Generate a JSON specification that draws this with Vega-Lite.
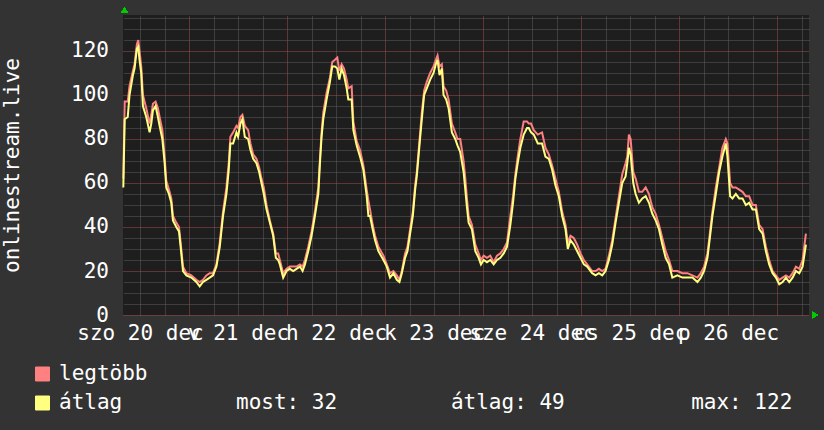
{
  "$schema": "https://vega.github.io/schema/vega-lite/v6.json",
  "width": 686,
  "height": 300,
  "autosize": {"type": "none"},
  "padding": {"left": 123, "top": 15, "right": 15, "bottom": 115},
  "background": "#333333",
  "config": {
    "font": "DejaVu Sans Mono",
    "view": {"fill": "#1e1e1e", "stroke": null},
    "axis": {"labelFont": "DejaVu Sans Mono", "titleFont": "DejaVu Sans Mono"},
    "legend": {"labelFont": "DejaVu Sans Mono"}
  },
  "data": {"values": [
    {"t": "2014-12-20T07:55Z", "legtöbb": 62, "átlag": 58},
    {"t": "2014-12-20T08:15Z", "legtöbb": 97, "átlag": 89},
    {"t": "2014-12-20T09:00Z", "legtöbb": 97, "átlag": 90},
    {"t": "2014-12-20T09:26Z", "legtöbb": 104, "átlag": 100},
    {"t": "2014-12-20T10:16Z", "legtöbb": 111, "átlag": 109},
    {"t": "2014-12-20T10:40Z", "legtöbb": 114, "átlag": 112},
    {"t": "2014-12-20T11:14Z", "legtöbb": 123, "átlag": 121},
    {"t": "2014-12-20T11:34Z", "legtöbb": 125, "átlag": 122},
    {"t": "2014-12-20T11:53Z", "legtöbb": 120, "átlag": 116},
    {"t": "2014-12-20T12:18Z", "legtöbb": 113, "átlag": 110},
    {"t": "2014-12-20T12:43Z", "legtöbb": 100, "átlag": 95},
    {"t": "2014-12-20T13:32Z", "legtöbb": 94, "átlag": 90},
    {"t": "2014-12-20T14:21Z", "legtöbb": 87, "átlag": 83},
    {"t": "2014-12-20T14:46Z", "legtöbb": 91, "átlag": 87},
    {"t": "2014-12-20T15:10Z", "legtöbb": 96, "átlag": 93},
    {"t": "2014-12-20T15:49Z", "legtöbb": 97, "átlag": 95},
    {"t": "2014-12-20T16:23Z", "legtöbb": 94, "átlag": 90},
    {"t": "2014-12-20T16:48Z", "legtöbb": 90, "átlag": 86},
    {"t": "2014-12-20T17:28Z", "legtöbb": 84, "átlag": 80},
    {"t": "2014-12-20T18:02Z", "legtöbb": 72, "átlag": 69},
    {"t": "2014-12-20T18:26Z", "legtöbb": 61, "átlag": 58},
    {"t": "2014-12-20T19:05Z", "legtöbb": 57, "átlag": 55},
    {"t": "2014-12-20T19:40Z", "legtöbb": 53, "átlag": 51},
    {"t": "2014-12-20T20:04Z", "legtöbb": 45, "átlag": 43},
    {"t": "2014-12-20T20:53Z", "legtöbb": 42, "átlag": 40},
    {"t": "2014-12-20T21:33Z", "legtöbb": 40, "átlag": 38},
    {"t": "2014-12-20T21:57Z", "legtöbb": 33, "átlag": 31},
    {"t": "2014-12-20T22:32Z", "legtöbb": 22, "átlag": 20},
    {"t": "2014-12-20T23:21Z", "legtöbb": 19, "átlag": 18},
    {"t": "2014-12-21T00:34Z", "legtöbb": 18, "átlag": 17},
    {"t": "2014-12-21T01:48Z", "legtöbb": 16, "átlag": 15},
    {"t": "2014-12-21T02:37Z", "legtöbb": 15, "átlag": 13},
    {"t": "2014-12-21T03:26Z", "legtöbb": 16, "átlag": 15},
    {"t": "2014-12-21T04:15Z", "legtöbb": 18, "átlag": 16},
    {"t": "2014-12-21T05:04Z", "legtöbb": 19, "átlag": 17},
    {"t": "2014-12-21T05:53Z", "legtöbb": 19, "átlag": 18},
    {"t": "2014-12-21T06:43Z", "legtöbb": 23, "átlag": 22},
    {"t": "2014-12-21T07:32Z", "legtöbb": 33, "átlag": 31},
    {"t": "2014-12-21T08:20Z", "legtöbb": 47, "átlag": 45},
    {"t": "2014-12-21T09:10Z", "legtöbb": 58, "átlag": 55},
    {"t": "2014-12-21T09:44Z", "legtöbb": 69, "átlag": 66},
    {"t": "2014-12-21T10:08Z", "legtöbb": 81, "átlag": 78},
    {"t": "2014-12-21T10:48Z", "legtöbb": 83, "átlag": 78},
    {"t": "2014-12-21T11:37Z", "legtöbb": 86, "átlag": 83},
    {"t": "2014-12-21T12:01Z", "legtöbb": 85, "átlag": 81},
    {"t": "2014-12-21T12:36Z", "legtöbb": 90, "átlag": 87},
    {"t": "2014-12-21T13:05Z", "legtöbb": 91, "átlag": 89},
    {"t": "2014-12-21T13:40Z", "legtöbb": 86, "átlag": 81},
    {"t": "2014-12-21T14:29Z", "legtöbb": 84, "átlag": 80},
    {"t": "2014-12-21T15:03Z", "legtöbb": 78, "átlag": 75},
    {"t": "2014-12-21T15:43Z", "legtöbb": 73, "átlag": 71},
    {"t": "2014-12-21T16:31Z", "legtöbb": 71, "átlag": 69},
    {"t": "2014-12-21T17:11Z", "legtöbb": 67, "átlag": 65},
    {"t": "2014-12-21T17:45Z", "legtöbb": 62, "átlag": 60},
    {"t": "2014-12-21T18:19Z", "legtöbb": 58, "átlag": 55},
    {"t": "2014-12-21T18:59Z", "legtöbb": 50, "átlag": 48},
    {"t": "2014-12-21T19:48Z", "legtöbb": 43, "átlag": 42},
    {"t": "2014-12-21T20:37Z", "legtöbb": 37, "átlag": 36},
    {"t": "2014-12-21T21:16Z", "legtöbb": 28, "átlag": 26},
    {"t": "2014-12-21T21:50Z", "legtöbb": 28, "átlag": 25},
    {"t": "2014-12-21T22:15Z", "legtöbb": 25, "átlag": 23},
    {"t": "2014-12-21T23:04Z", "legtöbb": 19, "átlag": 17},
    {"t": "2014-12-21T23:53Z", "legtöbb": 21, "átlag": 20},
    {"t": "2014-12-22T00:42Z", "legtöbb": 22, "átlag": 21},
    {"t": "2014-12-22T01:31Z", "legtöbb": 22, "átlag": 20},
    {"t": "2014-12-22T02:20Z", "legtöbb": 22, "átlag": 21},
    {"t": "2014-12-22T03:10Z", "legtöbb": 23, "átlag": 22},
    {"t": "2014-12-22T03:49Z", "legtöbb": 22, "átlag": 20},
    {"t": "2014-12-22T04:23Z", "legtöbb": 25, "átlag": 23},
    {"t": "2014-12-22T05:12Z", "legtöbb": 31, "átlag": 29},
    {"t": "2014-12-22T06:01Z", "legtöbb": 38, "átlag": 36},
    {"t": "2014-12-22T06:50Z", "legtöbb": 47, "átlag": 45},
    {"t": "2014-12-22T07:40Z", "legtöbb": 58, "átlag": 55},
    {"t": "2014-12-22T08:04Z", "legtöbb": 71, "átlag": 69},
    {"t": "2014-12-22T08:28Z", "legtöbb": 83, "átlag": 81},
    {"t": "2014-12-22T08:53Z", "legtöbb": 92, "átlag": 89},
    {"t": "2014-12-22T09:42Z", "legtöbb": 101, "átlag": 98},
    {"t": "2014-12-22T10:31Z", "legtöbb": 108, "átlag": 106},
    {"t": "2014-12-22T11:05Z", "legtöbb": 115, "átlag": 113},
    {"t": "2014-12-22T11:45Z", "legtöbb": 116, "átlag": 113},
    {"t": "2014-12-22T12:19Z", "legtöbb": 117, "átlag": 112},
    {"t": "2014-12-22T12:49Z", "legtöbb": 111, "átlag": 107},
    {"t": "2014-12-22T13:23Z", "legtöbb": 114, "átlag": 112},
    {"t": "2014-12-22T13:58Z", "legtöbb": 112, "átlag": 109},
    {"t": "2014-12-22T14:37Z", "legtöbb": 107, "átlag": 103},
    {"t": "2014-12-22T15:01Z", "legtöbb": 103, "átlag": 98},
    {"t": "2014-12-22T15:50Z", "legtöbb": 104, "átlag": 98},
    {"t": "2014-12-22T16:15Z", "legtöbb": 88, "átlag": 84},
    {"t": "2014-12-22T17:04Z", "legtöbb": 79, "átlag": 77},
    {"t": "2014-12-22T17:53Z", "legtöbb": 75, "átlag": 72},
    {"t": "2014-12-22T18:42Z", "legtöbb": 68, "átlag": 66},
    {"t": "2014-12-22T19:31Z", "legtöbb": 57, "átlag": 54},
    {"t": "2014-12-22T19:56Z", "legtöbb": 52, "átlag": 45},
    {"t": "2014-12-22T20:20Z", "legtöbb": 48, "átlag": 45},
    {"t": "2014-12-22T20:59Z", "legtöbb": 41, "átlag": 39},
    {"t": "2014-12-22T21:34Z", "legtöbb": 36, "átlag": 34},
    {"t": "2014-12-22T22:23Z", "legtöbb": 31, "átlag": 29},
    {"t": "2014-12-22T23:37Z", "legtöbb": 27, "átlag": 25},
    {"t": "2014-12-23T00:26Z", "legtöbb": 23, "átlag": 22},
    {"t": "2014-12-23T01:14Z", "legtöbb": 19, "átlag": 17},
    {"t": "2014-12-23T02:04Z", "legtöbb": 20, "átlag": 19},
    {"t": "2014-12-23T02:53Z", "legtöbb": 18, "átlag": 16},
    {"t": "2014-12-23T03:32Z", "legtöbb": 16, "átlag": 15},
    {"t": "2014-12-23T04:07Z", "legtöbb": 20, "átlag": 19},
    {"t": "2014-12-23T04:55Z", "legtöbb": 28, "átlag": 26},
    {"t": "2014-12-23T05:30Z", "legtöbb": 31, "átlag": 29},
    {"t": "2014-12-23T06:09Z", "legtöbb": 39, "átlag": 37},
    {"t": "2014-12-23T06:49Z", "legtöbb": 47, "átlag": 45},
    {"t": "2014-12-23T07:23Z", "legtöbb": 59, "átlag": 57},
    {"t": "2014-12-23T07:47Z", "legtöbb": 65, "átlag": 63},
    {"t": "2014-12-23T08:26Z", "legtöbb": 79, "átlag": 77},
    {"t": "2014-12-23T09:01Z", "legtöbb": 92, "átlag": 89},
    {"t": "2014-12-23T09:35Z", "legtöbb": 102, "átlag": 100},
    {"t": "2014-12-23T10:14Z", "legtöbb": 106, "átlag": 103},
    {"t": "2014-12-23T11:04Z", "legtöbb": 110, "átlag": 107},
    {"t": "2014-12-23T11:53Z", "legtöbb": 113, "átlag": 110},
    {"t": "2014-12-23T12:27Z", "legtöbb": 116, "átlag": 114},
    {"t": "2014-12-23T12:52Z", "legtöbb": 118, "átlag": 116},
    {"t": "2014-12-23T13:21Z", "legtöbb": 113, "átlag": 109},
    {"t": "2014-12-23T13:55Z", "legtöbb": 114, "átlag": 112},
    {"t": "2014-12-23T14:20Z", "legtöbb": 104, "átlag": 100},
    {"t": "2014-12-23T14:59Z", "legtöbb": 102, "átlag": 98},
    {"t": "2014-12-23T15:34Z", "legtöbb": 98, "átlag": 94},
    {"t": "2014-12-23T16:23Z", "legtöbb": 87, "átlag": 83},
    {"t": "2014-12-23T17:12Z", "legtöbb": 83, "átlag": 80},
    {"t": "2014-12-23T17:46Z", "legtöbb": 80, "átlag": 77},
    {"t": "2014-12-23T18:26Z", "legtöbb": 80, "átlag": 74},
    {"t": "2014-12-23T19:15Z", "legtöbb": 70, "átlag": 65},
    {"t": "2014-12-23T19:40Z", "legtöbb": 62, "átlag": 57},
    {"t": "2014-12-23T20:04Z", "legtöbb": 53, "átlag": 49},
    {"t": "2014-12-23T20:29Z", "legtöbb": 45, "átlag": 42},
    {"t": "2014-12-23T21:17Z", "legtöbb": 41, "átlag": 39},
    {"t": "2014-12-23T22:07Z", "legtöbb": 32, "átlag": 29},
    {"t": "2014-12-23T22:56Z", "legtöbb": 28, "átlag": 26},
    {"t": "2014-12-23T23:30Z", "legtöbb": 25, "átlag": 23},
    {"t": "2014-12-24T00:10Z", "legtöbb": 27, "átlag": 25},
    {"t": "2014-12-24T00:58Z", "legtöbb": 26, "átlag": 24},
    {"t": "2014-12-24T01:47Z", "legtöbb": 27, "átlag": 25},
    {"t": "2014-12-24T02:37Z", "legtöbb": 24, "átlag": 23},
    {"t": "2014-12-24T03:26Z", "legtöbb": 27, "átlag": 25},
    {"t": "2014-12-24T04:15Z", "legtöbb": 28, "átlag": 26},
    {"t": "2014-12-24T05:04Z", "legtöbb": 30, "átlag": 28},
    {"t": "2014-12-24T05:53Z", "legtöbb": 33, "átlag": 31},
    {"t": "2014-12-24T06:42Z", "legtöbb": 45, "átlag": 41},
    {"t": "2014-12-24T07:21Z", "legtöbb": 54, "átlag": 51},
    {"t": "2014-12-24T07:56Z", "legtöbb": 64, "átlag": 62},
    {"t": "2014-12-24T08:30Z", "legtöbb": 72, "átlag": 69},
    {"t": "2014-12-24T09:09Z", "legtöbb": 80, "átlag": 76},
    {"t": "2014-12-24T09:58Z", "legtöbb": 88, "átlag": 82},
    {"t": "2014-12-24T10:47Z", "legtöbb": 88, "átlag": 85},
    {"t": "2014-12-24T11:12Z", "legtöbb": 87, "átlag": 85},
    {"t": "2014-12-24T11:46Z", "legtöbb": 87, "átlag": 83},
    {"t": "2014-12-24T12:26Z", "legtöbb": 84, "átlag": 82},
    {"t": "2014-12-24T13:25Z", "legtöbb": 82, "átlag": 78},
    {"t": "2014-12-24T14:28Z", "legtöbb": 83, "átlag": 78},
    {"t": "2014-12-24T15:17Z", "legtöbb": 76, "átlag": 72},
    {"t": "2014-12-24T16:07Z", "legtöbb": 73, "átlag": 71},
    {"t": "2014-12-24T16:56Z", "legtöbb": 68, "átlag": 66},
    {"t": "2014-12-24T17:44Z", "legtöbb": 62, "átlag": 59},
    {"t": "2014-12-24T18:34Z", "legtöbb": 56, "átlag": 54},
    {"t": "2014-12-24T19:23Z", "legtöbb": 47, "átlag": 45},
    {"t": "2014-12-24T20:12Z", "legtöbb": 41, "átlag": 39},
    {"t": "2014-12-24T20:46Z", "legtöbb": 33, "átlag": 30},
    {"t": "2014-12-24T21:25Z", "legtöbb": 36, "átlag": 34},
    {"t": "2014-12-24T22:14Z", "legtöbb": 35, "átlag": 32},
    {"t": "2014-12-24T23:04Z", "legtöbb": 32, "átlag": 29},
    {"t": "2014-12-24T23:53Z", "legtöbb": 28, "átlag": 26},
    {"t": "2014-12-25T00:42Z", "legtöbb": 25, "átlag": 23},
    {"t": "2014-12-25T01:31Z", "legtöbb": 23, "átlag": 22},
    {"t": "2014-12-25T02:44Z", "legtöbb": 20, "átlag": 19},
    {"t": "2014-12-25T03:34Z", "legtöbb": 20, "átlag": 18},
    {"t": "2014-12-25T04:23Z", "legtöbb": 21, "átlag": 19},
    {"t": "2014-12-25T05:12Z", "legtöbb": 20, "átlag": 18},
    {"t": "2014-12-25T06:01Z", "legtöbb": 21, "átlag": 20},
    {"t": "2014-12-25T06:50Z", "legtöbb": 27, "átlag": 25},
    {"t": "2014-12-25T07:39Z", "legtöbb": 34, "átlag": 32},
    {"t": "2014-12-25T08:28Z", "legtöbb": 44, "átlag": 42},
    {"t": "2014-12-25T09:17Z", "legtöbb": 54, "átlag": 51},
    {"t": "2014-12-25T10:06Z", "legtöbb": 64, "átlag": 60},
    {"t": "2014-12-25T10:55Z", "legtöbb": 69, "átlag": 63},
    {"t": "2014-12-25T11:20Z", "legtöbb": 72, "átlag": 69},
    {"t": "2014-12-25T11:44Z", "legtöbb": 82, "átlag": 76},
    {"t": "2014-12-25T12:09Z", "legtöbb": 80, "átlag": 73},
    {"t": "2014-12-25T12:48Z", "legtöbb": 65, "átlag": 60},
    {"t": "2014-12-25T13:23Z", "legtöbb": 62, "átlag": 55},
    {"t": "2014-12-25T14:11Z", "legtöbb": 56, "átlag": 51},
    {"t": "2014-12-25T15:01Z", "legtöbb": 56, "átlag": 53},
    {"t": "2014-12-25T15:50Z", "legtöbb": 58, "átlag": 54},
    {"t": "2014-12-25T16:39Z", "legtöbb": 55, "átlag": 51},
    {"t": "2014-12-25T17:28Z", "legtöbb": 49, "átlag": 46},
    {"t": "2014-12-25T18:17Z", "legtöbb": 46, "átlag": 43},
    {"t": "2014-12-25T19:06Z", "legtöbb": 41, "átlag": 39},
    {"t": "2014-12-25T19:55Z", "legtöbb": 35, "átlag": 32},
    {"t": "2014-12-25T20:44Z", "legtöbb": 29, "átlag": 26},
    {"t": "2014-12-25T21:34Z", "legtöbb": 25, "átlag": 23},
    {"t": "2014-12-25T22:22Z", "legtöbb": 20, "átlag": 17},
    {"t": "2014-12-25T23:36Z", "legtöbb": 20, "átlag": 18},
    {"t": "2014-12-26T00:50Z", "legtöbb": 19, "átlag": 17},
    {"t": "2014-12-26T02:03Z", "legtöbb": 19, "átlag": 17},
    {"t": "2014-12-26T03:17Z", "legtöbb": 18, "átlag": 17},
    {"t": "2014-12-26T04:31Z", "legtöbb": 17, "átlag": 15},
    {"t": "2014-12-26T05:20Z", "legtöbb": 19, "átlag": 17},
    {"t": "2014-12-26T06:09Z", "legtöbb": 22, "átlag": 20},
    {"t": "2014-12-26T06:58Z", "legtöbb": 28, "átlag": 26},
    {"t": "2014-12-26T07:37Z", "legtöbb": 38, "átlag": 36},
    {"t": "2014-12-26T08:11Z", "legtöbb": 47, "átlag": 45},
    {"t": "2014-12-26T09:01Z", "legtöbb": 58, "átlag": 55},
    {"t": "2014-12-26T09:50Z", "legtöbb": 67, "átlag": 65},
    {"t": "2014-12-26T10:38Z", "legtöbb": 76, "átlag": 72},
    {"t": "2014-12-26T11:28Z", "legtöbb": 80, "átlag": 78},
    {"t": "2014-12-26T11:52Z", "legtöbb": 78, "átlag": 72},
    {"t": "2014-12-26T12:31Z", "legtöbb": 60, "átlag": 54},
    {"t": "2014-12-26T13:06Z", "legtöbb": 58, "átlag": 53},
    {"t": "2014-12-26T13:55Z", "legtöbb": 58, "átlag": 55},
    {"t": "2014-12-26T14:44Z", "legtöbb": 57, "átlag": 53},
    {"t": "2014-12-26T15:33Z", "legtöbb": 56, "átlag": 53},
    {"t": "2014-12-26T16:22Z", "legtöbb": 54, "átlag": 50},
    {"t": "2014-12-26T17:11Z", "legtöbb": 54, "átlag": 51},
    {"t": "2014-12-26T18:01Z", "legtöbb": 50, "átlag": 48},
    {"t": "2014-12-26T18:49Z", "legtöbb": 50, "átlag": 48},
    {"t": "2014-12-26T19:38Z", "legtöbb": 41, "átlag": 39},
    {"t": "2014-12-26T20:28Z", "legtöbb": 39, "átlag": 37},
    {"t": "2014-12-26T21:17Z", "legtöbb": 31, "átlag": 29},
    {"t": "2014-12-26T22:05Z", "legtöbb": 25, "átlag": 23},
    {"t": "2014-12-26T22:55Z", "legtöbb": 20, "átlag": 19},
    {"t": "2014-12-26T23:44Z", "legtöbb": 18, "átlag": 17},
    {"t": "2014-12-27T00:33Z", "legtöbb": 16, "átlag": 14},
    {"t": "2014-12-27T01:22Z", "legtöbb": 17, "átlag": 15},
    {"t": "2014-12-27T02:11Z", "legtöbb": 18, "átlag": 17},
    {"t": "2014-12-27T03:00Z", "legtöbb": 17, "átlag": 15},
    {"t": "2014-12-27T03:49Z", "legtöbb": 19, "átlag": 17},
    {"t": "2014-12-27T04:38Z", "legtöbb": 22, "átlag": 20},
    {"t": "2014-12-27T05:27Z", "legtöbb": 21, "átlag": 19},
    {"t": "2014-12-27T06:16Z", "legtöbb": 25, "átlag": 22},
    {"t": "2014-12-27T07:05Z", "legtöbb": 37, "átlag": 32}
  ]},
  "layer": [
    {
      "transform": [{"fold": ["legtöbb", "átlag"], "as": ["series", "value"]}],
      "mark": {"type": "line", "strokeWidth": 2, "interpolate": "linear"},
      "encoding": {
        "x": {
          "field": "t", "type": "temporal",
          "scale": {"type": "utc", "nice": false, "domain": [
            {"year": 2014, "month": 12, "date": 20, "hours": 7, "minutes": 50, "seconds": 12, "utc": true},
            {"year": 2014, "month": 12, "date": 27, "hours": 7, "minutes": 50, "seconds": 12, "utc": true}]},
          "axis": {
            "orient": "bottom", "title": null, "grid": false, "ticks": false, "domain": false,
            "values": [
              {"year": 2014, "month": 12, "date": 20, "hours": 12, "utc": true},
              {"year": 2014, "month": 12, "date": 21, "hours": 12, "utc": true},
              {"year": 2014, "month": 12, "date": 22, "hours": 12, "utc": true},
              {"year": 2014, "month": 12, "date": 23, "hours": 12, "utc": true},
              {"year": 2014, "month": 12, "date": 24, "hours": 12, "utc": true},
              {"year": 2014, "month": 12, "date": 25, "hours": 12, "utc": true},
              {"year": 2014, "month": 12, "date": 26, "hours": 12, "utc": true}],
            "labelExpr": "['v','h','k','sze','cs','p','szo'][utcday(datum.value)] + ' ' + utcdate(datum.value) + ' dec'",
            "labelOverlap": false, "labelFlush": false, "labelBound": false,
            "labelPadding": 24, "labelBaseline": "alphabetic",
            "labelColor": "#ffffff", "labelFontSize": 21
          }
        },
        "y": {
          "field": "value", "type": "quantitative",
          "scale": {"domain": [0, 136.3636], "nice": false},
          "axis": {
            "orient": "left", "values": [0, 20, 40, 60, 80, 100, 120],
            "grid": true, "gridColor": "#a04c4c", "gridDash": [1, 1], "gridWidth": 1,
            "ticks": false, "domain": false, "labelPadding": 14.5,
            "labelColor": "#ffffff", "labelFontSize": 21,
            "title": "onlinestream.live", "titleColor": "#ffffff", "titleFontSize": 21,
            "titleFontWeight": "normal", "titleAngle": -90, "titleX": -105, "titleY": 150,
            "titleBaseline": "alphabetic", "titleAlign": "center"
          }
        },
        "color": {
          "field": "series", "type": "nominal",
          "scale": {"domain": ["legtöbb", "átlag"], "range": ["#ff8080", "#ffff80"]},
          "legend": {
            "orient": "none", "legendX": -91, "legendY": 348.5, "title": null, "padding": 0,
            "direction": "vertical",
            "symbolType": "square", "symbolSize": 196, "symbolStrokeColor": "#000000",
            "symbolStrokeWidth": 1, "symbolOpacity": 1,
            "labelFontSize": 21, "labelColor": "#ffffff", "labelOffset": 6, "rowPadding": 7,
            "labelLimit": 1000,
            "labelExpr": "datum.label == 'átlag' ? 'átlag\u00a0\u00a0\u00a0\u00a0\u00a0\u00a0\u00a0\u00a0\u00a0most: 32\u00a0\u00a0\u00a0\u00a0\u00a0\u00a0\u00a0\u00a0\u00a0átlag: 49\u00a0\u00a0\u00a0\u00a0\u00a0\u00a0\u00a0\u00a0\u00a0\u00a0max: 122' : datum.label",
            "encode": {"symbols": {"update": {"fill": {"scale": "color", "field": "value"}, "fillOpacity": {"value": 1}, "stroke": {"value": "#000000"}}}}
          }
        }
      }
    },
    {
      "mark": {"type": "point", "shape": "triangle-up", "filled": true, "size": 40, "color": "#00cc00", "opacity": 1, "yOffset": -5, "xOffset": 1.5},
      "encoding": {
        "x": {
          "datum": {"year": 2014, "month": 12, "date": 20, "hours": 7, "minutes": 50, "seconds": 12, "utc": true},
          "type": "temporal",
          "scale": {"type": "utc", "nice": false, "domain": [
            {"year": 2014, "month": 12, "date": 20, "hours": 7, "minutes": 50, "seconds": 12, "utc": true},
            {"year": 2014, "month": 12, "date": 27, "hours": 7, "minutes": 50, "seconds": 12, "utc": true}]},
          "axis": {
            "orient": "top", "title": null, "labels": false, "ticks": false, "domain": false,
            "grid": true, "gridColor": "#a04c4c", "gridDash": [1, 1], "gridWidth": 1,
            "values": [
              {"year": 2014, "month": 12, "date": 21, "utc": true},
              {"year": 2014, "month": 12, "date": 22, "utc": true},
              {"year": 2014, "month": 12, "date": 23, "utc": true},
              {"year": 2014, "month": 12, "date": 24, "utc": true},
              {"year": 2014, "month": 12, "date": 25, "utc": true},
              {"year": 2014, "month": 12, "date": 26, "utc": true},
              {"year": 2014, "month": 12, "date": 27, "utc": true}]
          }
        },
        "y": {
          "datum": 136.3636, "type": "quantitative",
          "scale": {"domain": [0, 136.3636], "nice": false},
          "axis": {
            "orient": "right", "title": null, "labels": false, "ticks": false, "domain": false,
            "grid": true, "gridColor": "#5e5e5e", "gridDash": [1, 1], "gridWidth": 1,
            "values": [5, 10, 15, 25, 30, 35, 45, 50, 55, 65, 70, 75, 85, 90, 95, 105, 110, 115, 125, 130, 135]
          }
        }
      }
    },
    {
      "mark": {"type": "point", "shape": "triangle-right", "filled": true, "size": 40, "color": "#00cc00", "opacity": 1, "xOffset": 6},
      "encoding": {
        "x": {
          "datum": {"year": 2014, "month": 12, "date": 27, "hours": 7, "minutes": 50, "seconds": 12, "utc": true},
          "type": "temporal",
          "scale": {"type": "utc", "nice": false, "domain": [
            {"year": 2014, "month": 12, "date": 20, "hours": 7, "minutes": 50, "seconds": 12, "utc": true},
            {"year": 2014, "month": 12, "date": 27, "hours": 7, "minutes": 50, "seconds": 12, "utc": true}]},
          "axis": {
            "orient": "top", "title": null, "labels": false, "ticks": false, "domain": false,
            "grid": true, "gridColor": "#5e5e5e", "gridDash": [1, 1], "gridWidth": 1,
            "values": [
              {"year": 2014, "month": 12, "date": 20, "hours": 12, "utc": true},
              {"year": 2014, "month": 12, "date": 20, "hours": 18, "utc": true},
              {"year": 2014, "month": 12, "date": 21, "hours": 6, "utc": true},
              {"year": 2014, "month": 12, "date": 21, "hours": 12, "utc": true},
              {"year": 2014, "month": 12, "date": 21, "hours": 18, "utc": true},
              {"year": 2014, "month": 12, "date": 22, "hours": 6, "utc": true},
              {"year": 2014, "month": 12, "date": 22, "hours": 12, "utc": true},
              {"year": 2014, "month": 12, "date": 22, "hours": 18, "utc": true},
              {"year": 2014, "month": 12, "date": 23, "hours": 6, "utc": true},
              {"year": 2014, "month": 12, "date": 23, "hours": 12, "utc": true},
              {"year": 2014, "month": 12, "date": 23, "hours": 18, "utc": true},
              {"year": 2014, "month": 12, "date": 24, "hours": 6, "utc": true},
              {"year": 2014, "month": 12, "date": 24, "hours": 12, "utc": true},
              {"year": 2014, "month": 12, "date": 24, "hours": 18, "utc": true},
              {"year": 2014, "month": 12, "date": 25, "hours": 6, "utc": true},
              {"year": 2014, "month": 12, "date": 25, "hours": 12, "utc": true},
              {"year": 2014, "month": 12, "date": 25, "hours": 18, "utc": true},
              {"year": 2014, "month": 12, "date": 26, "hours": 6, "utc": true},
              {"year": 2014, "month": 12, "date": 26, "hours": 12, "utc": true},
              {"year": 2014, "month": 12, "date": 26, "hours": 18, "utc": true},
              {"year": 2014, "month": 12, "date": 27, "hours": 6, "utc": true}]
          }
        },
        "y": {
          "datum": 0, "type": "quantitative",
          "scale": {"domain": [0, 136.3636], "nice": false},
          "axis": null
        }
      }
    }
  ],
  "resolve": {"axis": {"x": "independent", "y": "independent"}}
}
